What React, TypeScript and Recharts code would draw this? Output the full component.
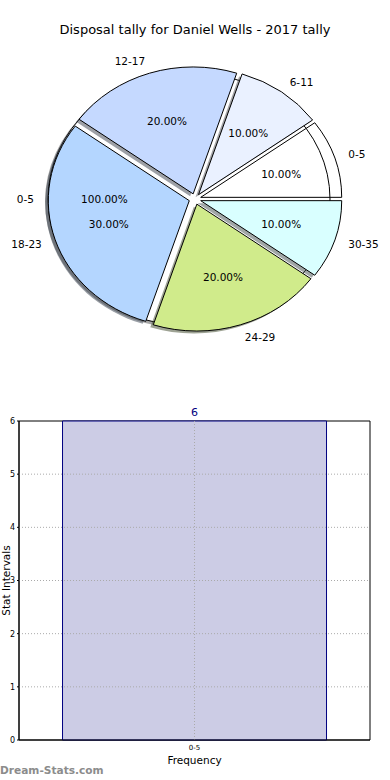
import {
  PieChart,
  Pie,
  BarChart,
  Bar,
  XAxis,
  YAxis,
  ReferenceLine,
  ReferenceArea,
  LabelList,
} from "recharts";

const categories = ["0-5", "6-11", "12-17", "18-23", "24-29", "30-35"];
const shares = [10, 10, 20, 30, 20, 10];
const sliceColors = ["none", "#eaf1ff", "#c5d9ff", "#b4d6ff", "#d0eb8b", "#d9ffff"];

const overallCategories = ["0-5"];
const overallShares = [100];

const barCategories = ["0-5"];
const barValues = [6];
const yTicks = [0, 1, 2, 3, 4, 5, 6];

const FONT = "DejaVu Sans, sans-serif";
const RAD = Math.PI / 180;
// matplotlib-ish pie: squashed a bit vertically, exploded, with drop shadows
const SQUASH = 0.9;
const EXPLODE = 6;
const SHADOW = { dx: -3, dy: 2.5 };

const pieData = categories.map((name, i) => ({ name, value: shares[i], color: sliceColors[i] }));
const overallData = overallCategories.map((name, i) => ({ name, value: overallShares[i], color: "#ffffff" }));
const barData = barCategories.map((name, i) => ({ name, value: barValues[i] }));

function shade(hex: string) {
  if (hex === "none") return "none";
  const n = parseInt(hex.slice(1), 16);
  const r = Math.round(((n >> 16) & 255) * 0.3);
  const g = Math.round(((n >> 8) & 255) * 0.3);
  const b = Math.round((n & 255) * 0.3);
  return `rgba(${r},${g},${b},0.5)`;
}

function geom(p: any) {
  const m = p.midAngle * RAD;
  return {
    ox: p.cx + EXPLODE * Math.cos(m),
    oy: p.cy - EXPLODE * SQUASH * Math.sin(m),
    rx: p.outerRadius,
    ry: p.outerRadius * SQUASH,
    m,
  };
}

function wedgePath(p: any) {
  const { ox, oy, rx, ry } = geom(p);
  const a0 = Math.min(p.startAngle, p.endAngle);
  const a1 = Math.max(p.startAngle, p.endAngle);
  if (a1 - a0 >= 359.99) {
    return `M${ox + rx},${oy} A${rx},${ry} 0 1 0 ${ox - rx},${oy} A${rx},${ry} 0 1 0 ${ox + rx},${oy} Z`;
  }
  const x0 = ox + rx * Math.cos(a0 * RAD);
  const y0 = oy - ry * Math.sin(a0 * RAD);
  const x1 = ox + rx * Math.cos(a1 * RAD);
  const y1 = oy - ry * Math.sin(a1 * RAD);
  const large = a1 - a0 > 180 ? 1 : 0;
  return `M${ox},${oy} L${x0},${y0} A${rx},${ry} 0 ${large} 0 ${x1},${y1} Z`;
}

const drawShadow = (p: any) => (
  <path
    key={`s${p.index}`}
    d={wedgePath(p)}
    transform={`translate(${SHADOW.dx},${SHADOW.dy})`}
    fill={shade(p.payload.color)}
    stroke="none"
  />
);

const drawWedge = (p: any) => (
  <path key={`w${p.index}`} d={wedgePath(p)} fill={p.payload.color} stroke="#000" strokeWidth={1} />
);

const drawWedgeWithShadow = (p: any) => (
  <g key={`ws${p.index}`}>
    {drawShadow(p)}
    {drawWedge(p)}
  </g>
);

const drawTexts = (p: any) => {
  const { ox, oy, rx, ry, m } = geom(p);
  const c = Math.cos(m);
  const s = Math.sin(m);
  return (
    <g key={`t${p.index}`} fontFamily={FONT} fontSize={10.5} fill="#000">
      <text
        x={ox + 1.1 * rx * c}
        y={oy - 1.1 * ry * s}
        textAnchor={c >= 0 ? "start" : "end"}
        dominantBaseline="central"
      >
        {p.name}
      </text>
      <text x={ox + 0.6 * rx * c} y={oy - 0.6 * ry * s} textAnchor="middle" dominantBaseline="central">
        {`${(p.percent * 100).toFixed(2)}%`}
      </text>
    </g>
  );
};

const pieCommon = {
  dataKey: "value",
  nameKey: "name",
  cx: 190,
  cy: 194,
  outerRadius: 141,
  startAngle: 0,
  endAngle: 360,
  fill: "transparent",
  stroke: "none",
  labelLine: false,
  isAnimationActive: false,
};

const YLabel = (props: any) => {
  const vb = props.viewBox || { y: 21, height: 319 };
  const cy = vb.y + vb.height / 2;
  return (
    <text
      x={10}
      y={cy}
      transform={`rotate(-90 10 ${cy})`}
      textAnchor="middle"
      fontFamily={FONT}
      fontSize={10.5}
      fill="#000"
    >
      Stat Intervals
    </text>
  );
};

export default function App() {
  return (
    <div style={{ position: "absolute", left: 0, top: 0, width: 390, height: 780, background: "#fff" }}>
      <div
        style={{
          position: "absolute",
          top: 22,
          left: 0,
          width: 390,
          textAlign: "center",
          fontFamily: FONT,
          fontSize: 13,
          lineHeight: "16px",
          color: "#000",
        }}
      >
        Disposal tally for Daniel Wells - 2017 tally
      </div>

      <div style={{ position: "absolute", top: 0, left: 0 }}>
        <PieChart width={390} height={370}>
          <Pie {...pieCommon} data={overallData} label={drawWedgeWithShadow} />
          <Pie {...pieCommon} data={pieData} label={drawShadow} />
          <Pie {...pieCommon} data={pieData} label={drawWedge} />
          <Pie {...pieCommon} data={pieData} label={drawTexts} />
          <Pie {...pieCommon} data={overallData} label={drawTexts} />
        </PieChart>
      </div>

      <div style={{ position: "absolute", top: 400, left: 0 }}>
        <BarChart
          width={390}
          height={380}
          data={barData}
          margin={{ top: 21, right: 20, bottom: 0, left: 0 }}
          barCategoryGap="12.4%"
        >
          <XAxis
            dataKey="name"
            height={40}
            tickLine={false}
            tickSize={3}
            tickMargin={2}
            axisLine={{ stroke: "#000" }}
            tick={{ fontSize: 7, fill: "#000", fontFamily: FONT }}
            label={{ value: "Frequency", position: "insideBottom", offset: 16, fontSize: 10.5, fill: "#000", fontFamily: FONT }}
          />
          <YAxis
            domain={[0, 6]}
            ticks={yTicks}
            interval={0}
            width={19}
            tickSize={2}
            tickMargin={2}
            axisLine={{ stroke: "#000" }}
            tickLine={{ stroke: "#000" }}
            tick={{ fontSize: 8, fill: "#000", fontFamily: FONT }}
            label={YLabel}
          />
          <Bar dataKey="value" fill="#ccccE5" stroke="#000080" strokeWidth={1} isAnimationActive={false}>
            <LabelList dataKey="value" position="top" offset={5} fill="#000080" fontSize={11} fontFamily={FONT} />
          </Bar>
          {yTicks.slice(1, -1).map((t) => (
            <ReferenceLine key={t} y={t} stroke="#aaa" strokeDasharray="1 2" />
          ))}
          {barCategories.map((c) => (
            <ReferenceLine key={c} x={c} stroke="#aaa" strokeDasharray="1 2" />
          ))}
          <ReferenceArea y1={yTicks[0]} y2={yTicks[yTicks.length - 1]} fill="none" fillOpacity={0} stroke="#000" strokeWidth={1} />
        </BarChart>
      </div>

      <div
        style={{
          position: "absolute",
          left: 0,
          top: 763,
          fontFamily: FONT,
          fontSize: 10.6,
          lineHeight: "14px",
          fontWeight: "bold",
          color: "#8c8c8c",
        }}
      >
        Dream-Stats.com
      </div>
    </div>
  );
}
